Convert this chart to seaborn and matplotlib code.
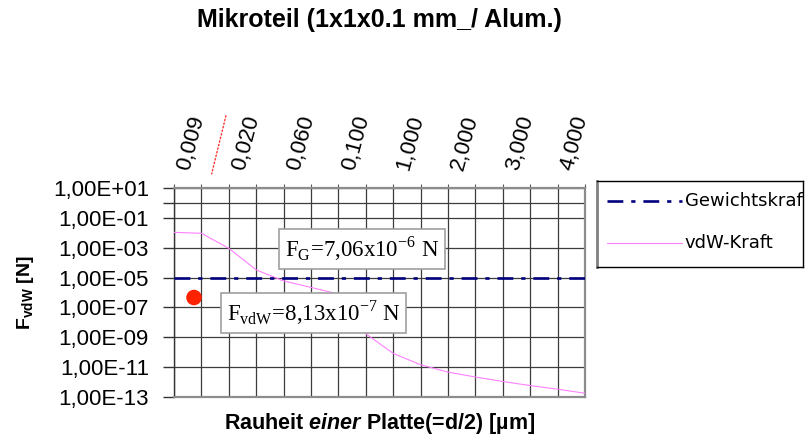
import numpy as np
import pandas as pd
import seaborn as sns
import matplotlib.pyplot as plt
from matplotlib.ticker import NullLocator

# Mikroteil (Alu): Gewichtskraft und vdW-Kraft ueber der Rauheit einer Platte.
# Werte (log-Skala, Kategorien auf der oberen Achse).

x_labels = ["0,009", "", "0,020", "", "0,060", "", "0,100", "",
            "1,000", "", "2,000", "", "3,000", "", "4,000", ""]
vdw_kraft = [1.1e-2, 9.5e-3, 9.3e-4, 3.3e-5, 6.0e-6, 2.2e-6, 7.8e-7, 1.7e-9,
             8.1e-11, 1.4e-11, 4.5e-12, 2.1e-12, 1.05e-12, 5.6e-13, 3.2e-13, 1.7e-13]
gewichtskraft = [1.0e-5] * len(x_labels)
punkt_x = [0.73]
punkt_y = [4.6e-7]

y_ticks = [1e1, 1e0, 1e-1, 1e-3, 1e-5, 1e-7, 1e-9, 1e-11, 1e-13]
y_labels = ["1,00E+01", "", "1,00E-01", "1,00E-03", "1,00E-05",
            "1,00E-07", "1,00E-09", "1,00E-11", "1,00E-13"]

df = pd.DataFrame({
    "pos": np.arange(len(x_labels)),
    "vdw": vdw_kraft,
    "gewicht": gewichtskraft,
})

sns.set_style("white")
plt.rcParams["font.family"] = ["Liberation Sans", "DejaVu Sans"]
plt.rcParams["text.color"] = "black"
plt.rcParams["axes.labelcolor"] = "black"
plt.rcParams["xtick.labelcolor"] = "black"
plt.rcParams["ytick.labelcolor"] = "black"
plt.rcParams["mathtext.fontset"] = "custom"
plt.rcParams["mathtext.rm"] = "Liberation Serif"
plt.rcParams["mathtext.bf"] = "Liberation Sans:bold"
plt.rcParams["mathtext.it"] = "Liberation Sans:bold:italic"

fig = plt.figure(figsize=(8.06, 4.41), dpi=100)
ax = fig.add_axes([174 / 806, 1 - 396.7 / 441, 411 / 806, 208.4 / 441])

navy = "#00007f"
pink = "#ff80ff"

sns.lineplot(data=df, x="pos", y="gewicht", ax=ax, color=navy, lw=1.9,
             linestyle=(0, (6, 3, 1.6, 3)), zorder=4)
sns.lineplot(data=df, x="pos", y="vdw", ax=ax, color=pink, lw=0.8, zorder=3)
sns.scatterplot(x=punkt_x, y=punkt_y, ax=ax, color="#ff2200", s=125,
                edgecolor="none", zorder=5)

ax.set_yscale("log")
ax.set_ylim(1e-13, 1e1)
ax.set_xlim(0, len(x_labels) - 1)
ax.set_yticks(y_ticks)
ax.set_yticklabels(y_labels, fontsize=16)
ax.yaxis.set_minor_locator(NullLocator())

ax.xaxis.tick_top()
ax.set_xticks(df["pos"])
ax.set_xticklabels(x_labels, fontsize=16, rotation=75, ha="left", va="top",
                   rotation_mode="anchor")
ax.tick_params(axis="x", length=3, width=0.8, color="#555555", pad=12)
ax.tick_params(axis="y", length=8, width=1, color="#333333", pad=10, left=True)

ax.grid(True, color="#3c3c3c", lw=0.9)
for side in ["top", "right", "bottom"]:
    ax.spines[side].set_color("#8c8c8c")
    ax.spines[side].set_linewidth(1.6)
ax.spines["left"].set_color("#333333")
ax.spines["left"].set_linewidth(1.0)

ax.xaxis.set_label_position("bottom")
ax.set_xlabel(r"Rauheit $\mathit{einer}$ Platte(=d/2) [µm]", fontsize=15.5,
              fontweight="bold", labelpad=10)
ax.set_ylabel(r"$\mathbf{F_{vdW}}$ [N]", fontsize=14, fontweight="bold", labelpad=12)

box = dict(boxstyle="square,pad=0.25", facecolor="white", edgecolor="#a0a0a0", lw=1.2)
ax.text(0.457, 0.709, r"F$_\mathrm{G}$=7,06x10$^\mathrm{-6}$ N", transform=ax.transAxes,
        ha="center", va="center", fontsize=16.5, family="Liberation Serif", bbox=box, zorder=6)
ax.text(0.339, 0.403, r"F$_\mathrm{vdW}$=8,13x10$^\mathrm{-7}$ N", transform=ax.transAxes,
        ha="center", va="center", fontsize=16.5, family="Liberation Serif", bbox=box, zorder=6)

# kleine rote gepunktete Linie ueber der Achse
ax.annotate("", xy=(0.09, 1.056), xytext=(0.128, 1.361), xycoords="axes fraction",
            arrowprops=dict(arrowstyle="-", color="#ff3030", ls=":", lw=1.0))

fig.suptitle("Mikroteil (1x1x0.1 mm_/ Alum.)", x=379 / 806, y=1 - 8 / 441,
             va="top", fontsize=18, fontweight="bold")

# Legende als eigener Kasten, Text wird am Rahmen abgeschnitten
leg = fig.add_axes([597 / 806, 1 - 266.7 / 441, 206 / 806, 86 / 441])
leg.set_xlim(0, 1)
leg.set_ylim(0, 1)
leg.set_xticks([])
leg.set_yticks([])
for side in leg.spines:
    leg.spines[side].set_color("black")
    leg.spines[side].set_linewidth(1.0)
leg.spines["left"].set_color("#808080")
leg.spines["left"].set_linewidth(2.0)
leg.plot([0.049, 0.413], [0.767, 0.767], color=navy, lw=1.9, linestyle=(0, (6, 3, 1.6, 3)))
leg.plot([0.049, 0.413], [0.276, 0.276], color=pink, lw=0.8)
leg.text(0.427, 0.767, "Gewichtskraft", va="center", fontsize=13,
         family="DejaVu Sans", clip_on=True)
leg.text(0.427, 0.276, "vdW-Kraft", va="center", fontsize=13,
         family="DejaVu Sans", clip_on=True)

fig.savefig("out.png", dpi=100)
